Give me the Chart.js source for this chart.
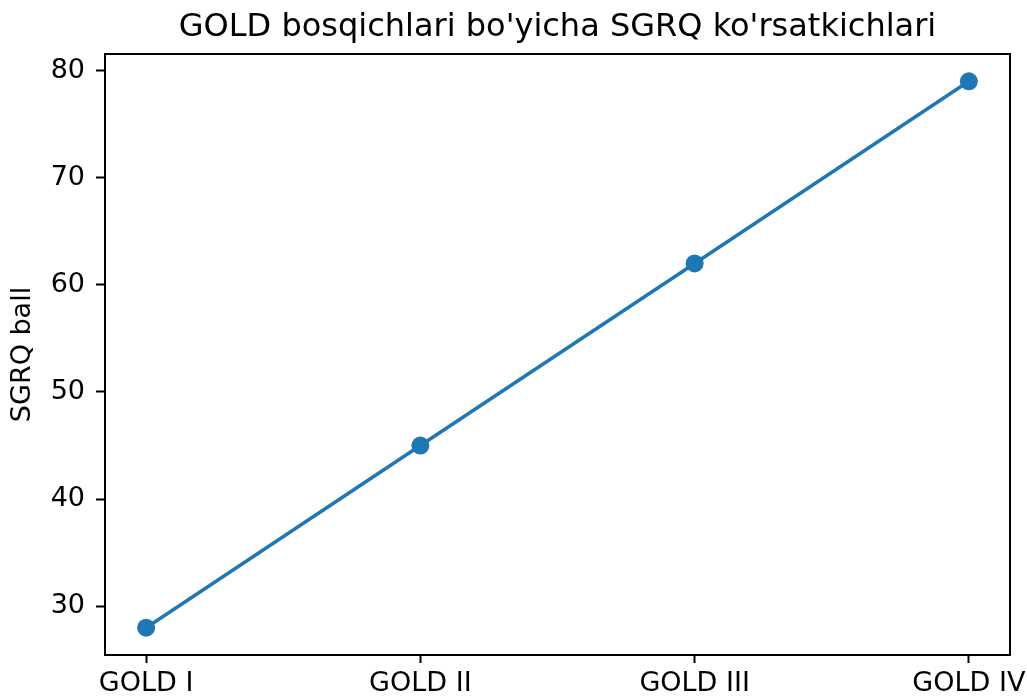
<!DOCTYPE html>
<html>
<head>
<meta charset="utf-8">
<script src="https://cdn.jsdelivr.net/npm/chart.js@4"></script>
<style>
    html, body { margin: 0; padding: 0; background: #fff; }
    #wrap { width: 1027px; height: 698px; }
</style>
</head>
<body>
<div id="wrap"><canvas id="chartSgrq"></canvas></div>
<script>
// GOLD stages and SGRQ scores
const stages = ["GOLD I", "GOLD II", "GOLD III", "GOLD IV"];
const sgrqScores = [28, 45, 62, 79];
const yTicks = [30, 40, 50, 60, 70, 80];

const FONT = "'DejaVu Sans', sans-serif";
const BLUE = "#1f77b4";

// draws the full box around the plot area, like matplotlib spines
const framePlugin = {
    id: "frame",
    afterDraw(chart) {
        const a = chart.chartArea;
        const ctx = chart.ctx;
        ctx.save();
        ctx.strokeStyle = "#000";
        ctx.lineWidth = 2;
        ctx.strokeRect(a.left, a.top, a.right - a.left, a.bottom - a.top);
        ctx.restore();
    }
};

document.addEventListener("DOMContentLoaded", function() {
    const ctx = document.getElementById("chartSgrq");
    const pad = 0.15;
    const ySpan = Math.max(...sgrqScores) - Math.min(...sgrqScores);

    new Chart(ctx, {
        type: "line",
        data: {
            datasets: [{
                label: "SGRQ",
                data: sgrqScores.map((v, i) => ({ x: i, y: v })),
                borderColor: BLUE,
                backgroundColor: BLUE,
                borderWidth: 3.5,
                pointRadius: 9,
                pointHoverRadius: 9,
                pointBorderWidth: 0,
                tension: 0
            }]
        },
        options: {
            responsive: true,
            maintainAspectRatio: false,
            animation: false,
            layout: { padding: { left: 0, right: 17, top: 0, bottom: 0 } },
            plugins: {
                legend: { display: false },
                tooltip: { enabled: false },
                title: {
                    display: true,
                    fullSize: false,
                    text: "GOLD bosqichlari bo'yicha SGRQ ko'rsatkichlari",
                    color: "#000",
                    font: { family: FONT, size: 32, weight: "normal" },
                    padding: { top: 8, bottom: 7.6 }
                }
            },
            scales: {
                x: {
                    type: "linear",
                    min: -pad,
                    max: stages.length - 1 + pad,
                    afterBuildTicks: s => { s.ticks = stages.map((_, i) => ({ value: i })); },
                    afterFit: s => { s.height = 43; s.paddingLeft = 0; s.paddingRight = 0; },
                    grid: { drawOnChartArea: false, tickLength: 8, tickColor: "#000", tickWidth: 2 },
                    border: { display: false },
                    ticks: {
                        color: "#000",
                        padding: 5,
                        maxRotation: 0,
                        autoSkip: false,
                        font: { family: FONT, size: 27 },
                        callback: v => stages[v]
                    }
                },
                y: {
                    min: Math.min(...sgrqScores) - ySpan * 0.05,
                    max: Math.max(...sgrqScores) + ySpan * 0.05,
                    afterBuildTicks: s => { s.ticks = yTicks.map(v => ({ value: v })); },
                    afterFit: s => { s.width = 105; s.paddingTop = 0; s.paddingBottom = 0; },
                    grid: { drawOnChartArea: false, tickLength: 9, tickColor: "#000", tickWidth: 2 },
                    border: { display: false },
                    ticks: {
                        color: "#000",
                        padding: 11,
                        font: { family: FONT, size: 27 }
                    },
                    title: {
                        display: true,
                        text: "SGRQ ball",
                        color: "#000",
                        font: { family: FONT, size: 27 },
                        padding: { top: 7, bottom: 0 }
                    }
                }
            }
        },
        plugins: [framePlugin]
    });
});
</script>
</body>
</html>
